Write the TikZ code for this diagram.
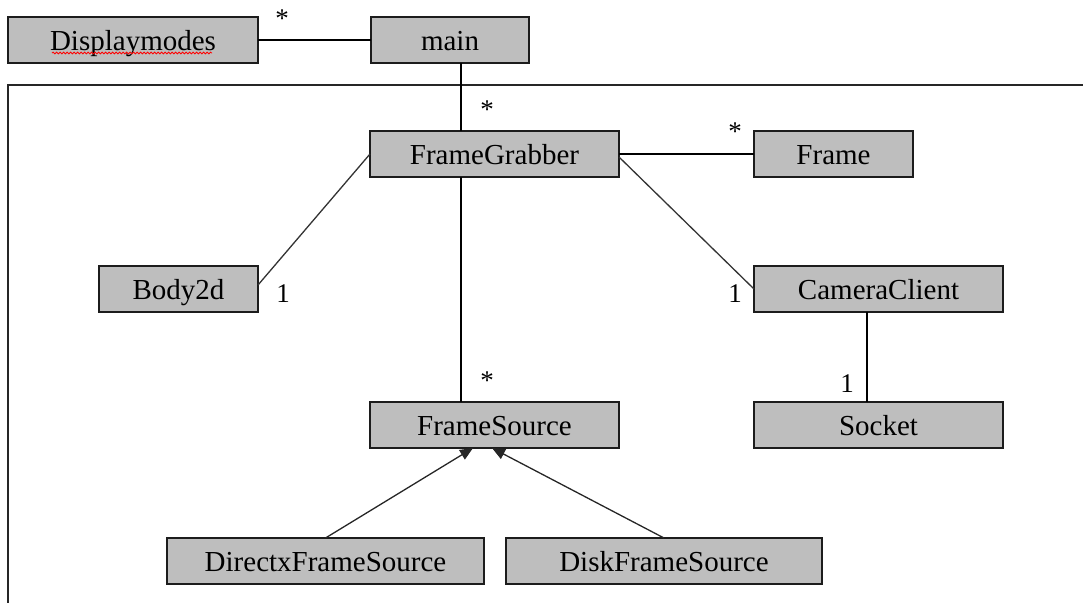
\documentclass[tikz,border=0pt]{standalone}
\usepackage{fontspec}
\setmainfont{Liberation Serif}
\usetikzlibrary{arrows.meta,calc,decorations.pathmorphing}

\definecolor{boxgray}{RGB}{190,190,190}
\definecolor{boxline}{RGB}{28,28,28}

\tikzset{
  cls/.style={draw=boxline, fill=boxgray, line width=1.8pt,
    minimum height=46pt, inner sep=0pt, outer sep=0pt, anchor=center,
    text height=20pt, text depth=0pt,
    font=\fontsize{29}{32}\selectfont},
  assoc/.style={line width=1.4pt, black},
  slant/.style={line width=1.3pt, black!80},
  inherit/.style={line width=1.3pt, black!85, -{Triangle[length=13pt,width=11pt]}},
  mult/.style={anchor=base, inner sep=0pt, font=\fontsize{27}{30}\selectfont},
  frameline/.style={line width=1.5pt, black!85}
}

\begin{document}
\begin{tikzpicture}[x=1pt, y=-1pt]
\useasboundingbox (0,0) rectangle (1083,603);

% enclosing package frame (top and left edges)
\coordinate (frameTR) at (1083,85);
\coordinate (frameTL) at (8,85);
\coordinate (frameBL) at (8,603);
\draw[frameline] (frameTR) -- (frameTL) -- (frameBL);

% classes
\node[cls, minimum width=250pt] (dm)    at (133,40)    {Displaymodes};
\node[cls, minimum width=158pt] (main)  at (450,40)    {main};
\node[cls, minimum width=249pt] (fg)    at (494.5,154) {FrameGrabber};
\node[cls, minimum width=159pt] (frame) at (833.5,154) {Frame};
\node[cls, minimum width=159pt] (body)  at (178.5,289) {Body2d};
\node[cls, minimum width=249pt] (cam)   at (878.5,289) {CameraClient};
\node[cls, minimum width=249pt] (fs)    at (494.5,425) {FrameSource};
\node[cls, minimum width=249pt] (sock)  at (878.5,425) {Socket};
\node[cls, minimum width=317pt] (dx)    at (325.5,561) {DirectxFrameSource};
\node[cls, minimum width=316pt] (disk)  at (664,561)   {DiskFrameSource};

% red wavy underline under Displaymodes
\coordinate (wavyA) at (52,53);
\coordinate (wavyB) at (212,53);
\draw[red, line width=0.8pt, decorate,
      decoration={snake, amplitude=0.9pt, segment length=3.5pt}] (wavyA) -- (wavyB);

% guide columns for the vertical connectors and arrow targets
\coordinate (trunk) at (461,0);
\coordinate (sockx) at (867,0);
\coordinate (tipL)  at (473,0);
\coordinate (tipR)  at (492,0);

% associations
\draw[assoc] (dm.east) -- (main.west);
\draw[assoc] (main.south -| trunk) -- (fg.north -| trunk);
\draw[assoc] (fg.east) -- (frame.west);
\draw[slant] (fg.west) -- ($(body.east)+(0,-4)$);
\draw[slant] ($(fg.east)+(0,3)$) -- (cam.west);
\draw[assoc] (fg.south -| trunk) -- (fs.north -| trunk);
\draw[assoc] (cam.south -| sockx) -- (sock.north -| sockx);

% generalisations
\draw[inherit] (dx.north) -- (fs.south -| tipL);
\draw[inherit] (disk.north) -- (fs.south -| tipR);

% multiplicities
\node[mult] (m1) at (282,27)  {*};
\node[mult] (m2) at (487,118) {*};
\node[mult] (m3) at (735,140) {*};
\node[mult] (m4) at (487,389) {*};
\node[mult] (m5) at (283,302) {1};
\node[mult] (m6) at (735,302) {1};
\node[mult] (m7) at (847,392) {1};
\end{tikzpicture}
\end{document}
